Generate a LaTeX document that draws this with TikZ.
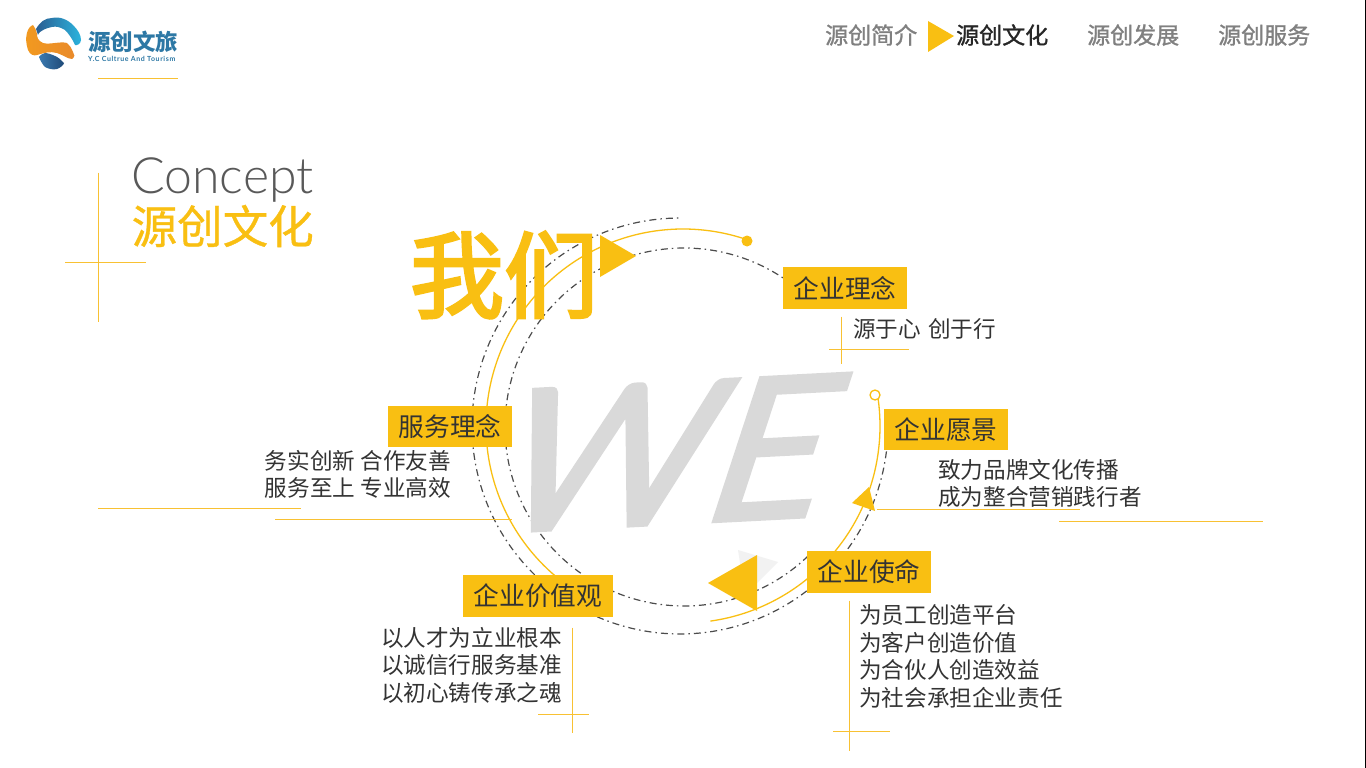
\documentclass[tikz,border=0pt]{standalone}
\usepackage{fontspec}
\usetikzlibrary{calc}
\setmainfont{Noto Sans CJK SC}
\newfontfamily\cjkmenu[FakeBold=1.2]{Noto Sans CJK SC}
\newfontfamily\cjkhead[FakeBold=.8]{Noto Sans CJK SC}
\newfontfamily\cjkbig[FakeBold=3]{Noto Sans CJK SC}
\newfontfamily\latinf{Lato}
\newfontfamily\latinl{Lato Light}
\newfontfamily\logosubf[LetterSpace=8.5]{Lato}
\newfontfamily\wef[FakeBold=2]{Lato}
\definecolor{brandy}{HTML}{F9BF12}
\definecolor{liney}{HTML}{F8C133}
\definecolor{inkd}{HTML}{333333}
\definecolor{menug}{HTML}{808080}
\definecolor{logoblue}{HTML}{2D78A5}
\newcommand{\fs}[1]{\fontsize{#1pt}{#1pt}\selectfont}
\tikzset{
  labelbox/.style={fill=brandy,inner sep=0pt,text=inkd,font=\fs{25.7}},
  bodytext/.style={inner sep=0pt,text=inkd,font=\fontsize{22.6pt}{27.5pt}\selectfont},
  thin line/.style={draw=liney,line width=1.1pt,shift={(.1,.5)}},
  dashring/.style={draw=black!70,line width=1.2pt,dash pattern=on 7pt off 4pt on 1.5pt off 4pt},
  yellowring/.style={draw=brandy,line width=1.3pt},
  menuitem/.style={inner sep=0pt,text=menug,font=\cjkmenu\fs{23}},
  tri/.style={fill=brandy,draw=none}
}
\begin{document}
\begin{tikzpicture}[x=1pt,y=-1pt]
\useasboundingbox (0,0) rectangle (1366,768);
\fill[white] (0,0) rectangle (1366,768);
\fill[black] (1365,0) rectangle (1366,768);

% logo
\shade[left color={rgb,255:red,242;green,154;blue,31},middle color={rgb,255:red,251;green,214;blue,74},right color={rgb,255:red,233;green,138;blue,43}]
 (33,25) .. controls (27,27) and (24,38) .. (28,50) .. controls (30,55) and (34,56) .. (37,55)
 .. controls (44,53) and (50,51) .. (57,53) .. controls (63,55) and (68,59) .. (72,59)
 .. controls (75,57) and (75,54) .. (73,52) .. controls (71,48) and (70,45) .. (67,43)
 .. controls (60,41) and (50,45) .. (43,43) .. controls (38,41) and (37,37) .. (37,34)
 .. controls (36,30) and (35,27) .. (33,25) -- cycle;
\shade[left color={rgb,255:red,43;green,94;blue,146},right color={rgb,255:red,43;green,179;blue,221}]
 (36,29) .. controls (40,22) and (45,18) .. (52,18) .. controls (60,16) and (68,20) .. (73,25)
 .. controls (78,30) and (81,35) .. (81,40) .. controls (81,44) and (76,46) .. (75,45)
 .. controls (72,38) and (68,33) .. (65,30) .. controls (60,27) and (56,26) .. (52,27)
 .. controls (46,28) and (43,30) .. (40,32) .. controls (39,33) and (38,34) .. (38,35) -- cycle;
\shade[left color={rgb,255:red,58;green,122;blue,176},right color={rgb,255:red,31;green,74;blue,120}]
 (39,57) .. controls (41,62) and (43,65) .. (45,67) .. controls (49,69) and (53,70) .. (57,69)
 .. controls (60,68) and (64,65) .. (64,63) .. controls (61,60) and (58,57) .. (55,56)
 .. controls (51,54) and (47,53) .. (45,53) .. controls (42,54) and (40,55) .. (39,57) -- cycle;
\node[inner sep=0pt,text=logoblue,font=\bfseries\fs{22.5},anchor=west] (logoname) at (88,42) {源创文旅};
\node[inner sep=0pt,text=logoblue,font=\logosubf\bfseries\fs{7},anchor=west] (logosub) at (88,59) {Y.C Cultrue And Tourism};
\draw[thin line] (98,78) -- (178,78);

% menu
\node[menuitem,anchor=west] (m1) at (825,35) {源创简介};
\fill[tri] (928,21) -- (928,52) -- (954,36) -- cycle;
\node[menuitem,anchor=west,text=black!85] (m2) at (956,35) {源创文化};
\node[menuitem,anchor=west] (m3) at (1087,35) {源创发展};
\node[menuitem,anchor=west] (m4) at (1218,35) {源创服务};

% heading
\node[inner sep=0pt,anchor=base west,text=black!65,font=\latinl\fs{50}] (concept) at (131,193) {Concept};
\node[inner sep=0pt,anchor=west,text=brandy,font=\cjkhead\fs{45.5}] (title) at (131.5,226) {源创文化};
\draw[thin line] (98,172) -- (98,321);
\draw[thin line] (65,262) -- (146,262);

% rings
\draw[dashring] plot[domain=-353:-90,samples=200] ({680+208*cos(\x)},{426+208*sin(\x)});
\draw[dashring] plot[domain=-314:-56,samples=200] ({684+179*cos(\x)},{427+179*sin(\x)});
\draw[yellowring] plot[domain=-230:-71,samples=160] ({683+197*cos(\x)},{426+197*sin(\x)});
\draw[yellowring] plot[domain=-8:82,samples=100] ({683+197*cos(\x)},{426+197*sin(\x)});
\fill[brandy] (747,241) circle[radius=5.5];
\draw[yellowring,fill=white] (875,395) circle[radius=5];

% WE
\node[inner sep=0pt,text=black!15,font=\wef\fs{200},xslant=.38,rotate=3] (we) at (672,453) {WE};

% triangles
\fill[black!5] (738,550) -- (778,562) -- (745,595) -- cycle;
\fill[tri] (757,555) -- (757,611) -- (708,583) -- cycle;
\fill[tri] (869,487) -- (852,503) -- (875,511) -- cycle;
\fill[tri] (600,235) -- (600,277) -- (636,256) -- cycle;

\node[inner sep=0pt,text=brandy,font=\cjkbig\fs{94}] (we2) at (504,275) {我们};

% guide lines
\draw[thin line] (841,316) -- (841,363);
\draw[thin line] (829,349) -- (909,349);
\draw[thin line] (877,509) -- (1080,509);
\draw[thin line] (1059,521) -- (1263,521);
\draw[thin line] (849,600) -- (849,750);
\draw[thin line] (833,731) -- (890,731);
\draw[thin line] (572,627) -- (572,732);
\draw[thin line] (538,714) -- (589,714);
\draw[thin line] (98,508) -- (301,508);
\draw[thin line] (275,519) -- (512,519);

% boxes
\node[labelbox,minimum width=124pt,minimum height=42pt] (b1) at (845,288) {\raisebox{.8pt}{企业理念}};
\node[labelbox,minimum width=124pt,minimum height=41pt] (b2) at (946,429.5) {\raisebox{.8pt}{企业愿景}};
\node[labelbox,minimum width=124pt,minimum height=42pt] (b3) at (869,572) {\raisebox{.8pt}{企业使命}};
\node[labelbox,minimum width=150pt,minimum height=42pt] (b4) at (538,596) {\raisebox{.8pt}{企业价值观}};
\node[labelbox,minimum width=124pt,minimum height=41pt] (b5) at (450,426.5) {\raisebox{.8pt}{服务理念}};

% body
\node[bodytext,anchor=west] (t1) at (853,329) {源于心\hspace{2pt} 创于行};
\node[bodytext,anchor=west,align=left] (t2) at (938,483.5) {致力品牌文化传播\\成为整合营销践行者};
\node[bodytext,anchor=west,align=left] (t3) at (859,656.5) {为员工创造平台\\为客户创造价值\\为合伙人创造效益\\为社会承担企业责任};
\node[bodytext,anchor=east,align=left] (t4) at (562,665) {以人才为立业根本\\以诚信行服务基准\\以初心铸传承之魂};
\node[bodytext,anchor=east,align=left] (t5) at (451,474.5) {务实创新 合作友善\\服务至上 专业高效};
\end{tikzpicture}
\end{document}
